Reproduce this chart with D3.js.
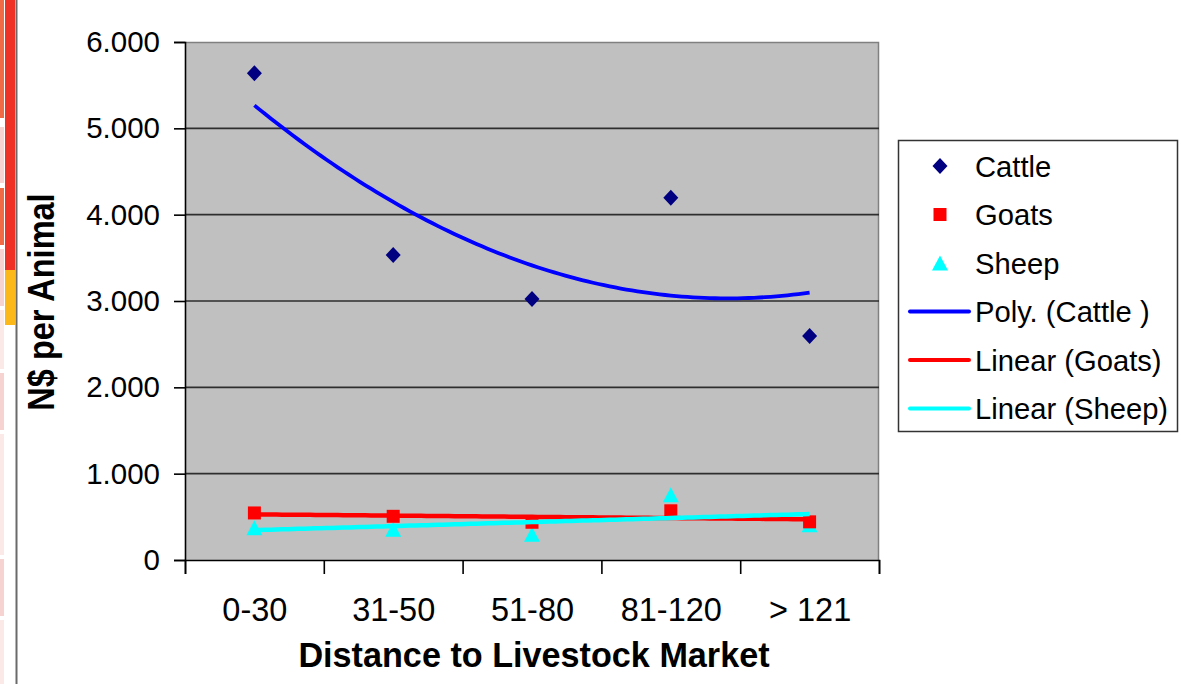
<!DOCTYPE html>
<html><head><meta charset="utf-8">
<script src="https://cdn.jsdelivr.net/npm/d3@7"></script>
<style>
html,body{margin:0;padding:0;background:#fff;}
svg{display:block;font-family:"Liberation Sans",Arial,sans-serif;}
</style></head>
<body>
<svg id="chart" width="1181" height="684"></svg>
<script>
// ---- data ----
const categories = ["0-30", "31-50", "51-80", "81-120", "> 121"];
const cattle = [5638, 3533, 3023, 4197, 2595];
const goats  = [545, 506, 437, 570, 442];
const sheep  = [375, 357, 299, 757, 409];
const yTicks = [0, 1000, 2000, 3000, 4000, 5000, 6000];
const legendLabels = ["Cattle", "Goats", "Sheep", "Poly. (Cattle )", "Linear (Goats)", "Linear (Sheep)"];

const svg = d3.select("#chart");

// ---- slide decoration on the left ----
const strip = [
  [0,118,"#ef6a45"],[127,183,"#f6d3d1"],[188,245,"#ef6a45"],[249,306,"#f6d3d1"],
  [310,369,"#fbe9e8"],[373,430,"#f6d3d1"],[434,555,"#fbe9e8"],[559,616,"#f6d3d1"],[620,684,"#fbe9e8"]
];
svg.selectAll("rect.strip").data(strip).join("rect")
  .attr("x",0).attr("width",4).attr("y",d=>d[0]).attr("height",d=>d[1]-d[0]).attr("fill",d=>d[2]);
svg.append("rect").attr("x",5).attr("y",0).attr("width",10).attr("height",270).attr("fill","#ee3124");
svg.append("rect").attr("x",5).attr("y",270).attr("width",10).attr("height",55).attr("fill","#fbb818");
svg.append("line").attr("x1",16.5).attr("x2",16.5).attr("y1",0).attr("y2",684).attr("stroke","#6a6a6a").attr("stroke-width",2);

// ---- scales ----
const x0 = 185, x1 = 879, yTop = 42, yBot = 560;
const x = d3.scaleLinear().domain([-0.5, categories.length - 0.5]).range([x0, x1]);
const y = d3.scaleLinear().domain([0, 6000]).range([yBot, yTop]);
const loc = d3.formatLocale({decimal: ",", thousands: ".", grouping: [3], currency: ["", ""]});
const fmt = loc.format(",");

// plot background
svg.append("rect").attr("x",x0).attr("y",yTop).attr("width",x1-x0).attr("height",yBot-yTop).attr("fill","#c0c0c0");
// border top/right
svg.append("path").attr("d",`M${x0},${yTop+0.5}H${x1-0.5}V${yBot}`).attr("fill","none").attr("stroke","#808080").attr("stroke-width",1.5);

// gridlines
svg.append("g").selectAll("line").data(yTicks.filter(v=>v>0 && v<6000)).join("line")
  .attr("x1",x0).attr("x2",x1).attr("y1",d=>y(d)).attr("y2",d=>y(d))
  .attr("stroke","#2e2e2e").attr("stroke-width",1.6);

// y axis
const yAxis = svg.append("g").attr("transform",`translate(${x0},0)`)
  .call(d3.axisLeft(y).tickValues(yTicks).tickFormat(fmt).tickSize(11).tickPadding(14));
yAxis.select(".domain").attr("stroke","#000").attr("stroke-width",1.6);
yAxis.selectAll(".tick line").attr("stroke","#000").attr("stroke-width",1.6);
yAxis.selectAll(".tick text").attr("font-size",29.5).attr("fill","#000").attr("font-family","Liberation Sans, Arial, sans-serif");

// x axis (boundary ticks)
const bounds = d3.range(categories.length + 1).map(i => i - 0.5);
const xAxis = svg.append("g").attr("transform",`translate(0,${yBot})`)
  .call(d3.axisBottom(x).tickValues(bounds).tickFormat("").tickSize(14));
xAxis.select(".domain").attr("stroke","#000").attr("stroke-width",1.6);
xAxis.selectAll(".tick line").attr("stroke","#000").attr("stroke-width",1.6);

// x labels at centers
const xLab = svg.append("g").attr("transform",`translate(0,${yBot})`)
  .call(d3.axisBottom(x).tickValues(d3.range(categories.length)).tickFormat(i=>categories[i]).tickSize(0).tickPadding(38));
xLab.select(".domain").remove();
xLab.selectAll(".tick text").attr("font-size",32.5).attr("fill","#000").attr("font-family","Liberation Sans, Arial, sans-serif");

// axis titles
svg.append("text").attr("x",534).attr("y",667).attr("text-anchor","middle")
  .attr("font-size",34.2).attr("font-weight","bold").text("Distance to Livestock Market");
svg.append("text").attr("transform","translate(54,302) rotate(-90) scale(1,1.15)").attr("text-anchor","middle")
  .attr("font-size",32.5).attr("font-weight","bold").text("N$ per Animal");

// ---- markers ----
const diamond = (cx,cy) => `M${cx},${cy-8}L${cx+7.5},${cy}L${cx},${cy+8}L${cx-7.5},${cy}Z`;
const square = (cx,cy) => `M${cx-6.5},${cy-6.5}h13v13h-13Z`;
const tri = (cx,cy) => `M${cx},${cy-7.5}L${cx+8},${cy+7.5}L${cx-8},${cy+7.5}Z`;

svg.append("g").selectAll("path").data(cattle).join("path")
  .attr("d",(d,i)=>diamond(x(i),y(d))).attr("fill","#000080");
svg.append("g").selectAll("path").data(sheep).join("path")
  .attr("d",(d,i)=>tri(x(i),y(d))).attr("fill","#00ffff");
svg.append("g").selectAll("path").data(goats).join("path")
  .attr("d",(d,i)=>square(x(i),y(d))).attr("fill","#ff0000");

// ---- trendlines (least squares from the data) ----
function linFit(vals){
  const n = vals.length, xs = d3.range(1,n+1);
  const mx = d3.mean(xs), my = d3.mean(vals);
  const b = d3.sum(xs,(v,i)=>(v-mx)*(vals[i]-my)) / d3.sum(xs,v=>(v-mx)*(v-mx));
  const a = my - b*mx;
  return t => a + b*t;
}
function quadFit(vals){
  const n = vals.length, xs = d3.range(1,n+1);
  const S = k => d3.sum(xs, v => Math.pow(v,k));
  const T = k => d3.sum(xs, (v,i) => Math.pow(v,k)*vals[i]);
  const M = [[n,S(1),S(2)],[S(1),S(2),S(3)],[S(2),S(3),S(4)]];
  const r = [T(0),T(1),T(2)];
  const det = m => m[0][0]*(m[1][1]*m[2][2]-m[1][2]*m[2][1]) - m[0][1]*(m[1][0]*m[2][2]-m[1][2]*m[2][0]) + m[0][2]*(m[1][0]*m[2][1]-m[1][1]*m[2][0]);
  const D = det(M);
  const c = [0,1,2].map(j => det(M.map((row,i)=>row.map((v,k)=>k===j?r[i]:v))) / D);
  return t => c[0] + c[1]*t + c[2]*t*t;
}
const n = categories.length;
const samples = d3.range(0, 101).map(k => 1 + (n-1)*k/100);
const trends = [
  {f: quadFit(cattle), color: "#0000ff", w: 3.8},
  {f: linFit(goats), color: "#ff0000", w: 4.5},
  {f: linFit(sheep), color: "#00ffff", w: 4.5}
];
trends.forEach(tr => {
  svg.append("path")
    .attr("d", d3.line().x(t => x(t-1)).y(t => y(tr.f(t)))(samples))
    .attr("fill","none").attr("stroke",tr.color).attr("stroke-width",tr.w);
});

// ---- legend ----
const lg = svg.append("g");
lg.append("rect").attr("x",898.5).attr("y",140.5).attr("width",279).attr("height",291)
  .attr("fill","#fff").attr("stroke","#333").attr("stroke-width",1.5);
const ly = i => 166 + i*48.5;
const mk = [diamond, square, tri];
const mkCol = ["#000080","#ff0000","#00ffff"];
legendLabels.forEach((lab,i) => {
  const cy = ly(i);
  if (i < 3) {
    lg.append("path").attr("d", mk[i](940, cy)).attr("fill", mkCol[i]);
  } else {
    lg.append("line").attr("x1",910).attr("x2",969).attr("y1",cy).attr("y2",cy)
      .attr("stroke",trends[i-3].color).attr("stroke-width",4).attr("stroke-linecap","round");
  }
  lg.append("text").attr("x",975).attr("y",cy).attr("dy","0.36em")
    .attr("font-size",29.2).attr("fill","#000").text(lab);
});
</script>
</body></html>
